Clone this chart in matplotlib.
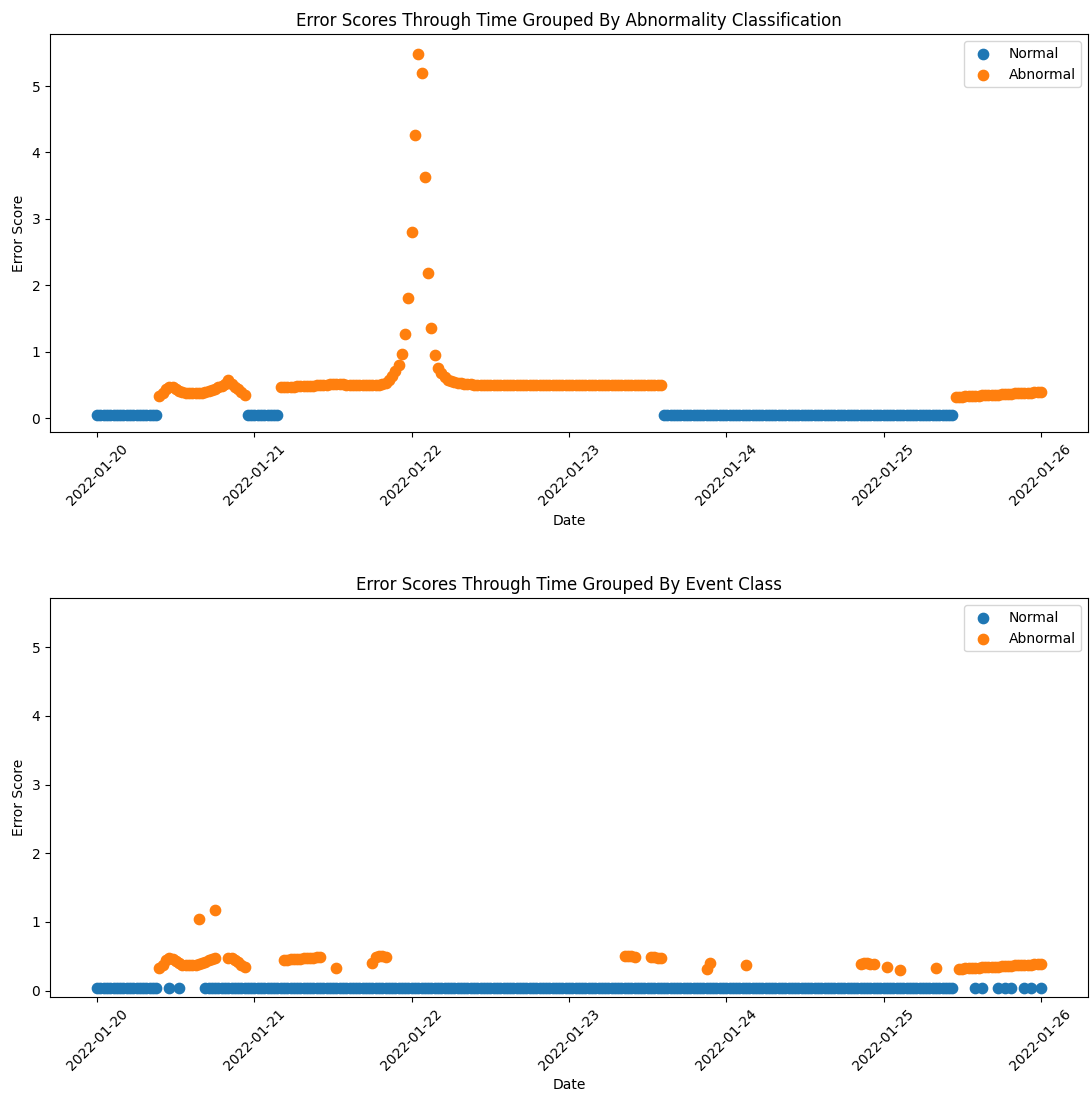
import pandas as pd
import matplotlib
matplotlib.use("Agg")
import matplotlib.pyplot as plt
import matplotlib.dates as mdates

# error score of every "normal" row (flat line at the bottom)
normal_score = 0.04

# --- top chart: grouped by abnormality classification (30 min samples) ---
cls_normal_runs = [("2022-01-20 00:00", "2022-01-20 09:00"),
                   ("2022-01-20 23:00", "2022-01-21 03:30"),
                   ("2022-01-23 14:30", "2022-01-25 10:30")]

cls_abn_starts = ["2022-01-20 09:30", "2022-01-21 04:00", "2022-01-25 11:00"]
cls_abn_scores = [
    [0.33, 0.38, 0.44, 0.47, 0.47, 0.44, 0.41, 0.39, 0.38, 0.37, 0.37, 0.37,
     0.375, 0.38, 0.39, 0.40, 0.42, 0.44, 0.46, 0.49, 0.52, 0.57, 0.51, 0.47,
     0.43, 0.39, 0.34],
    [0.46, 0.46, 0.465, 0.47, 0.47, 0.475, 0.48, 0.48, 0.485, 0.49, 0.49,
     0.495, 0.50, 0.50, 0.505, 0.51, 0.51, 0.515, 0.515, 0.51, 0.505,
     0.50, 0.50, 0.50, 0.495, 0.495, 0.495, 0.50, 0.50, 0.50, 0.50, 0.51,
     0.53, 0.58, 0.64, 0.71, 0.80,
     0.96, 1.26, 1.81, 2.80, 4.26, 5.48, 5.19, 3.63, 2.19, 1.36, 0.95, 0.75,
     0.68, 0.62, 0.58, 0.56, 0.545, 0.535, 0.53, 0.52, 0.515, 0.51, 0.505, 0.50,
     0.50, 0.50, 0.495, 0.495, 0.50, 0.50, 0.495, 0.495, 0.495, 0.50, 0.50, 0.50,
     0.495, 0.495, 0.495, 0.50, 0.50, 0.495, 0.495, 0.495, 0.495, 0.50, 0.50, 0.50,
     0.495, 0.495, 0.495, 0.495, 0.50, 0.50, 0.495, 0.495, 0.495, 0.495, 0.495, 0.50,
     0.50, 0.50, 0.495, 0.495, 0.495, 0.495, 0.50, 0.50, 0.495, 0.495, 0.495, 0.495,
     0.495, 0.495, 0.495, 0.495, 0.495, 0.495, 0.495, 0.495],
    [0.32, 0.32, 0.32, 0.325, 0.33, 0.33, 0.33, 0.335, 0.34, 0.34, 0.345, 0.35,
     0.35, 0.35, 0.355, 0.36, 0.36, 0.365, 0.37, 0.37, 0.37, 0.375, 0.38, 0.38,
     0.385, 0.39, 0.39],
]

# --- bottom chart: grouped by event class ---
evt_normal_runs = [("2022-01-20 00:00", "2022-01-20 09:00"),
                   ("2022-01-20 11:00", "2022-01-20 11:00"),
                   ("2022-01-20 12:30", "2022-01-20 12:30"),
                   ("2022-01-20 16:30", "2022-01-25 10:30"),
                   ("2022-01-25 14:00", "2022-01-25 14:00"),
                   ("2022-01-25 15:00", "2022-01-25 15:00"),
                   ("2022-01-25 17:30", "2022-01-25 17:30"),
                   ("2022-01-25 18:30", "2022-01-25 18:30"),
                   ("2022-01-25 19:30", "2022-01-25 19:30"),
                   ("2022-01-25 21:30", "2022-01-25 21:30"),
                   ("2022-01-25 22:30", "2022-01-25 22:30"),
                   ("2022-01-26 00:00", "2022-01-26 00:00")]

evt_abn_starts = ["2022-01-20 09:30", "2022-01-20 15:30", "2022-01-20 18:00",
                  "2022-01-20 20:00", "2022-01-21 04:30", "2022-01-21 12:30",
                  "2022-01-21 18:00", "2022-01-23 08:30", "2022-01-23 12:30",
                  "2022-01-23 21:00", "2022-01-24 03:00", "2022-01-24 20:30",
                  "2022-01-25 00:30", "2022-01-25 02:30", "2022-01-25 08:00",
                  "2022-01-25 11:30"]
evt_abn_scores = [
    [0.33, 0.38, 0.44, 0.47, 0.46, 0.43, 0.40, 0.38, 0.37, 0.37, 0.37, 0.38,
     0.39, 0.40, 0.42, 0.44, 0.46, 0.48],
    [1.05],
    [1.18],
    [0.48, 0.47, 0.45, 0.42, 0.38, 0.34],
    [0.45, 0.45, 0.46, 0.46, 0.46, 0.46, 0.47, 0.47, 0.48, 0.48, 0.49, 0.49],
    [0.33],
    [0.41, 0.49, 0.50, 0.50, 0.49],
    [0.50, 0.50, 0.50, 0.49],
    [0.49, 0.49, 0.48, 0.48],
    [0.31, 0.40],
    [0.37],
    [0.39, 0.40, 0.40, 0.39, 0.39],
    [0.34],
    [0.30],
    [0.33],
    [0.32, 0.32, 0.325, 0.33, 0.33, 0.33, 0.335, 0.34, 0.34, 0.345, 0.35, 0.35,
     0.35, 0.355, 0.36, 0.36, 0.365, 0.37, 0.37, 0.37, 0.375, 0.38, 0.38, 0.385,
     0.39, 0.39],
]


def normal_times(runs):
    out = []
    for a, b in runs:
        out.extend(pd.date_range(a, b, freq="30min"))
    return out


def abnormal_points(starts, scores):
    tt, yy = [], []
    for s, vals in zip(starts, scores):
        tt.extend(pd.date_range(s, periods=len(vals), freq="30min"))
        yy.extend(vals)
    return tt, yy


fig = plt.figure(figsize=(10.9, 10.95), dpi=100)
ax1 = fig.add_axes([0.0459, 0.6055, 0.9523, 0.3632])
ax2 = fig.add_axes([0.0459, 0.0898, 0.9523, 0.3638])

panels = [(ax1, cls_normal_runs, cls_abn_starts, cls_abn_scores,
           "Error Scores Through Time Grouped By Abnormality Classification"),
          (ax2, evt_normal_runs, evt_abn_starts, evt_abn_scores,
           "Error Scores Through Time Grouped By Event Class")]

for ax, nruns, astarts, ascores, title in panels:
    nt = normal_times(nruns)
    ax.scatter(nt, [normal_score] * len(nt), s=55, color="#1f77b4", label="Normal")
    at, ay = abnormal_points(astarts, ascores)
    ax.scatter(at, ay, s=55, color="#ff7f0e", label="Abnormal")
    ax.set_title(title)
    ax.set_xlabel("Date")
    ax.set_ylabel("Error Score")
    ax.legend(loc="upper right")
    ax.xaxis.set_major_locator(mdates.DayLocator())
    ax.xaxis.set_major_formatter(mdates.DateFormatter("%Y-%m-%d"))
    ax.tick_params(axis="x", labelrotation=45)

ax1.set_ylim(-0.21, 5.78)
ax2.set_ylim(-0.087, 5.71)

fig.savefig("out.png", dpi=100)
